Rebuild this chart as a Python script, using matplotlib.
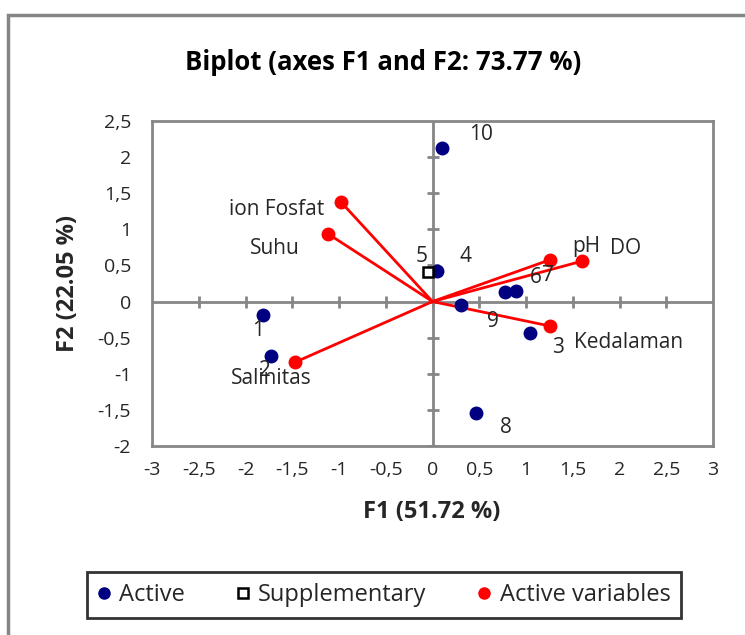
import matplotlib.pyplot as plt
from matplotlib.patches import Rectangle
from matplotlib.lines import Line2D
from matplotlib.ticker import FuncFormatter

plt.rcParams['font.family'] = ['Open Sans', 'DejaVu Sans']

# observations (active)
obs_labels = ['1', '2', '3', '4', '6', '7', '8', '9', '10']
obs_f1 = [-1.81, -1.73, 1.04, 0.05, 0.78, 0.89, 0.47, 0.31, 0.10]
obs_f2 = [-0.18, -0.75, -0.43, 0.43, 0.13, 0.15, -1.54, -0.05, 2.12]

# supplementary observation
sup_labels = ['5']
sup_f1 = [-0.05]
sup_f2 = [0.41]

# active variables
var_labels = ['ion Fosfat', 'Suhu', 'Salinitas', 'pH', 'DO', 'Kedalaman']
var_f1 = [-0.98, -1.12, -1.47, 1.26, 1.60, 1.26]
var_f2 = [1.38, 0.94, -0.84, 0.58, 0.56, -0.34]

xticks = [-3, -2.5, -2, -1.5, -1, -0.5, 0, 0.5, 1, 1.5, 2, 2.5, 3]
yticks = [-2, -1.5, -1, -0.5, 0, 0.5, 1, 1.5, 2, 2.5]

# label offsets (pixels)
obs_off = [(-5, -16), (-6, -15), (28, -15), (28, 14), (30, 15), (32, 15),
           (29, -15), (31, -16), (39, 14)]
sup_off = [(-6, 15)]
var_off = [(-64, -8), (-53, -15), (-24, -16), (36, 13), (43, 13), (78, -16)]

grey = '#868686'
txt = '#262626'
fig = plt.figure(figsize=(7.45, 6.35), dpi=100)
ax = fig.add_axes([152 / 745, 1 - 446 / 635, 561 / 745, 325 / 635])

ax.set_xlim(-3, 3)
ax.set_ylim(-2, 2.5)
ax.set_xticks(xticks)
ax.set_yticks(yticks)
fmt = FuncFormatter(lambda v, p: ('%g' % v).replace('.', ','))
ax.xaxis.set_major_formatter(fmt)
ax.yaxis.set_major_formatter(fmt)
ax.tick_params(length=0, labelsize=14, colors=txt)
ax.tick_params(axis='x', pad=11)
ax.tick_params(axis='y', pad=15)
for s in ax.spines.values():
    s.set_color(grey)
    s.set_linewidth(2)

# zero axes with tick marks
ax.axhline(0, color=grey, lw=2, zorder=1)
ax.axvline(0, color=grey, lw=2, zorder=1)
ax.plot(xticks[1:-1], [0] * (len(xticks) - 2), ls='none', marker='|', ms=9,
        mew=2, color=grey, zorder=1)
ax.plot([0] * (len(yticks) - 1), yticks[:-1], ls='none', marker='_', ms=9,
        mew=2, color=grey, zorder=1)

# variable vectors
for x, y in zip(var_f1, var_f2):
    ax.plot([0, x], [0, y], color='red', lw=2, zorder=2)
ax.plot(var_f1, var_f2, ls='none', marker='o', ms=9, color='red', zorder=3)
ax.plot(obs_f1, obs_f2, ls='none', marker='o', ms=9, color='#000080', zorder=3)
ax.plot(sup_f1, sup_f2, ls='none', marker='s', ms=7, mfc='white', mec='black',
        mew=1.8, zorder=4)

for labs, xs, ys, offs in [(obs_labels, obs_f1, obs_f2, obs_off),
                           (sup_labels, sup_f1, sup_f2, sup_off),
                           (var_labels, var_f1, var_f2, var_off)]:
    for t, x, y, o in zip(labs, xs, ys, offs):
        ax.annotate(t, (x, y), xytext=o, textcoords='offset pixels',
                    ha='center', va='center', fontsize=15, color=txt)

fig.text(383 / 745, 1 - 62 / 635, 'Biplot (axes F1 and F2: 73.77 %)',
         ha='center', va='center', fontsize=18.5, fontweight='bold')
fig.text(432 / 745, 1 - 512 / 635, 'F1 (51.72 %)', ha='center', va='center',
         fontsize=17, fontweight='bold', color=txt)
fig.text(68 / 745, 1 - 283 / 635, 'F2 (22.05 %)', ha='center', va='center',
         fontsize=17, fontweight='bold', rotation=90, color=txt)

# chart area border
fig.patches.append(Rectangle((8 / 745, -0.1), 1.2, 1 - 15 / 635 + 0.1,
                             transform=fig.transFigure, fill=False,
                             edgecolor=grey, lw=2.5))

handles = [
    Line2D([], [], ls='none', marker='o', ms=8, color='#000080'),
    Line2D([], [], ls='none', marker='s', ms=6.5, mfc='white', mec='black', mew=1.8),
    Line2D([], [], ls='none', marker='o', ms=8, color='red'),
]
leg = fig.legend(handles, ['Active', 'Supplementary', 'Active variables'],
                 loc='center', bbox_to_anchor=(384 / 745, 40 / 635), ncol=3,
                 fontsize=17, frameon=True, fancybox=False, handlelength=0.5,
                 handletextpad=0.4, columnspacing=2.2, borderpad=0.45,
                 labelcolor=txt)
leg.get_frame().set_edgecolor('black')
leg.get_frame().set_linewidth(2)

fig.savefig('out.png', dpi=100)
